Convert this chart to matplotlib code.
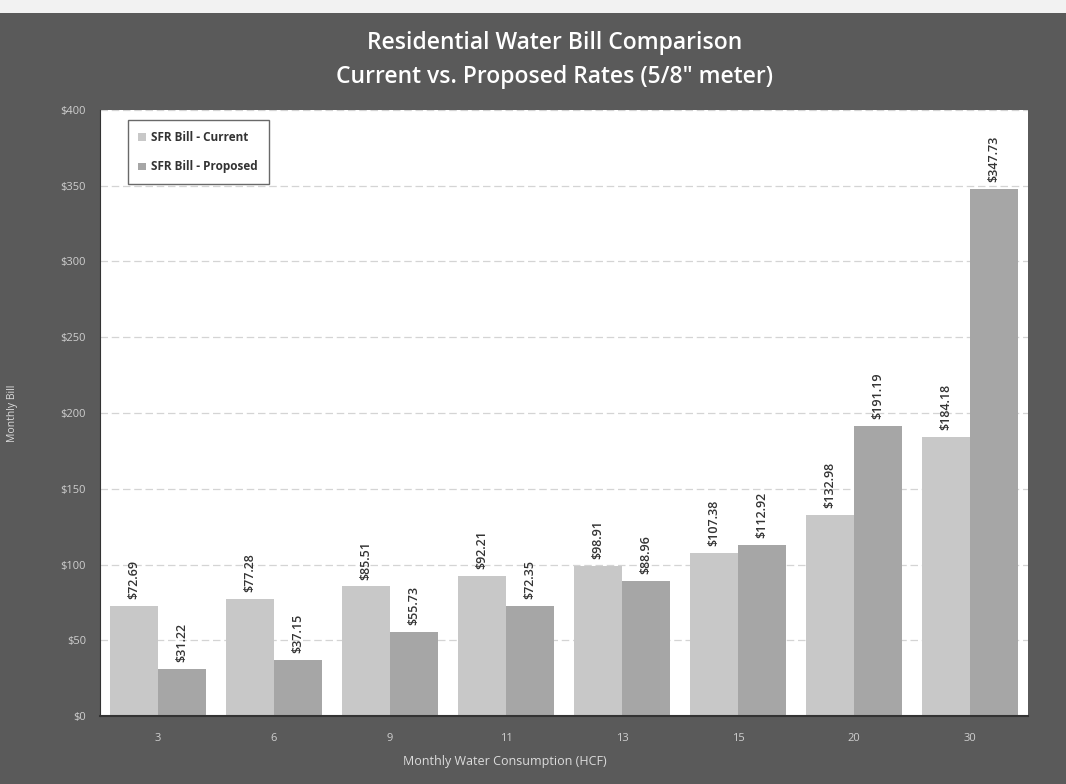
import numpy as np
import matplotlib.pyplot as plt
from matplotlib.patches import Rectangle

# monthly water consumption (HCF) and the two bill series
usage = ["3", "6", "9", "11", "13", "15", "20", "30"]
bill_current = [72.69, 77.28, 85.51, 92.21, 98.91, 107.38, 132.98, 184.18]
bill_proposed = [31.22, 37.15, 55.73, 72.35, 88.96, 112.92, 191.19, 347.73]
y_ticks = [0, 50, 100, 150, 200, 250, 300, 350, 400]

bg = "#5a5a5a"
c_cur = "#c8c8c8"
c_prop = "#a6a6a6"

plt.rcParams['font.family'] = ['Open Sans', 'DejaVu Sans']

fig = plt.figure(figsize=(10.66, 7.84), dpi=100, facecolor=bg)
# pale strip along the top edge of the page
fig.patches.append(Rectangle((0, 0.984), 1, 0.016, transform=fig.transFigure,
                             facecolor="#f2f2f2", edgecolor="none", zorder=0))

ax = fig.add_axes([100 / 1066, 1 - 716 / 784, 928 / 1066, 606 / 784])
ax.set_facecolor("white")

x = np.arange(len(usage))
w = 0.415
b1 = ax.bar(x - w / 2, bill_current, w, color=c_cur, label="SFR Bill - Current", zorder=2)
b2 = ax.bar(x + w / 2, bill_proposed, w, color=c_prop, label="SFR Bill - Proposed", zorder=2)

for bars, vals in ((b1, bill_current), (b2, bill_proposed)):
    for r, v in zip(bars, vals):
        ax.annotate(f"${v:.2f}", (r.get_x() + r.get_width() / 2, v),
                    xytext=(0, 5), textcoords="offset points", rotation=90,
                    ha="center", va="bottom", fontsize=9, color="#333333",
                    fontweight="semibold")

ax.set_xlim(-0.5, len(usage) - 0.5)
ax.set_ylim(0, 400)
ax.set_yticks(y_ticks)
ax.set_yticklabels([f"${t}" for t in y_ticks])
ax.set_xticks(x)
ax.set_xticklabels(usage)
ax.tick_params(axis="both", length=0, colors="#cfcfcf", labelsize=8)
ax.tick_params(axis="y", pad=10)
ax.tick_params(axis="x", pad=12)

ax.yaxis.grid(True, linestyle=(0, (6, 3)), color="#d4d4d4", linewidth=0.9, zorder=0)
for s in ("top", "right"):
    ax.spines[s].set_visible(False)
ax.spines["left"].set_color("#333333")
ax.spines["bottom"].set_color("#333333")
ax.spines["bottom"].set_linewidth(1.5)

ax.set_ylabel("Monthly Bill", color="#dcdcdc", fontsize=7.5)
ax.yaxis.set_label_coords(-0.088, 0.5)
ax.set_xlabel("Monthly Water Consumption (HCF)", color="#dcdcdc", fontsize=9)
ax.xaxis.set_label_coords(0.436, -0.064)

fig.text(0.52, 0.945, "Residential Water Bill Comparison", ha="center", va="center",
         color="white", fontsize=16.5, fontweight="semibold")
fig.text(0.52, 0.902, "Current vs. Proposed Rates (5/8\" meter)", ha="center", va="center",
         color="white", fontsize=16.5, fontweight="semibold")

leg = ax.legend(loc="upper left", bbox_to_anchor=(0.03, 0.983),
                prop={"weight": "bold", "size": 8.5}, frameon=True, fancybox=False,
                handlelength=0.6, handleheight=0.6, labelspacing=1.4,
                borderpad=0.9, handletextpad=0.5, borderaxespad=0)
leg.get_frame().set_edgecolor("#444444")
leg.get_frame().set_linewidth(1.0)
for t in leg.get_texts():
    t.set_color("#333333")

fig.savefig("out.png", dpi=100, facecolor=bg)
